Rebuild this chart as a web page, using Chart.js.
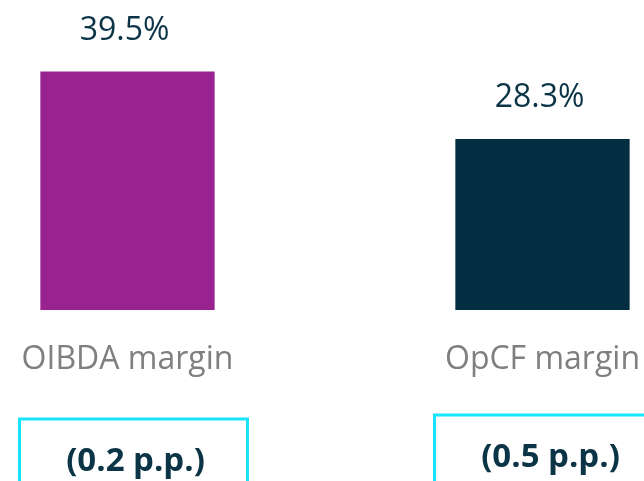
<!DOCTYPE html>
<html lang="en">
<head>
  <meta charset="UTF-8" />
  <title>Margins</title>
  <script src="https://cdn.jsdelivr.net/npm/chart.js"></script>
  <style>
    html, body {
      margin: 0;
      padding: 0;
      background: #ffffff;
      overflow: hidden;
    }
    .wrap {
      position: absolute;
      left: -80px;
      top: 0;
      width: 830px;
      height: 481px;
    }
  </style>
</head>
<body>
  <div class="wrap">
    <canvas id="marginChart"></canvas>
  </div>

  <script>
    const categories = ["OIBDA margin", "OpCF margin"];
    const marginValues = [39.5, 28.3];
    const changeLabels = ["(0.2 p.p.)", "(0.5 p.p.)"];
    const barColors = ["#98228f", "#032e42"];

    // value labels above bars + change boxes under the axis labels
    const annotate = {
      id: "annotate",
      afterDatasetsDraw(chart) {
        const ctx = chart.ctx;
        const meta = chart.getDatasetMeta(0);
        ctx.save();
        ctx.textAlign = "center";
        ctx.textBaseline = "middle";
        meta.data.forEach((bar, i) => {
          ctx.fillStyle = "#0b3446";
          ctx.font = "32px 'Open Sans'";
          ctx.fillText(marginValues[i].toFixed(1) + "%", bar.x - 3, bar.y - 41);

          const cx = bar.x + 6;
          const boxTop = i === 0 ? 419 : 415;
          ctx.strokeStyle = "#16e4fb";
          ctx.lineWidth = 3;
          ctx.strokeRect(cx - 114, boxTop, 228, 120);
          ctx.fillStyle = "#0b3446";
          ctx.font = "bold 33px 'Open Sans'";
          ctx.fillText(changeLabels[i], cx + 2, boxTop + 43);
        });
        ctx.restore();
      }
    };

    new Chart(document.getElementById("marginChart"), {
      type: "bar",
      data: {
        labels: categories,
        datasets: [
          {
            data: marginValues,
            backgroundColor: barColors,
            categoryPercentage: 0.42,
            barPercentage: 1.0,
          },
        ],
      },
      options: {
        responsive: true,
        maintainAspectRatio: false,
        animation: false,
        layout: { padding: { top: 8, left: 0, right: 0, bottom: 0 } },
        plugins: {
          legend: { display: false },
          tooltip: { enabled: false },
        },
        scales: {
          x: {
            grid: { display: false },
            border: { display: false },
            ticks: {
              color: "#7f7f7f",
              font: { family: "'Open Sans'", size: 32 },
              padding: 23,
              maxRotation: 0,
            },
            afterFit(scale) {
              scale.height = 171;
            },
          },
          y: {
            display: false,
            min: 0,
            max: 50,
          },
        },
      },
      plugins: [annotate],
    });
  </script>
</body>
</html>
